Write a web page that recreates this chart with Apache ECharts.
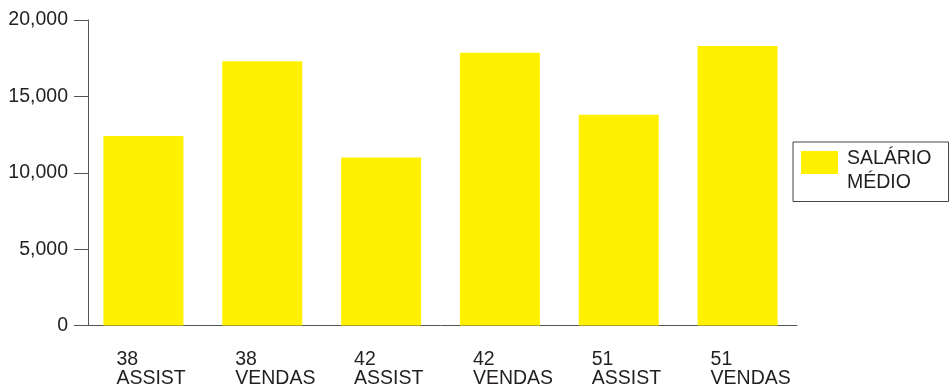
<!DOCTYPE html>
<html>
<head>
<meta charset="utf-8">
<script src="https://cdn.jsdelivr.net/npm/echarts@6/dist/echarts.min.js"></script>
<style>
	html,body{margin:0;padding:0;background:#fff;}
	#bar_main{width:950px;height:389px;}
</style>
</head>
<body>
<div id="bar_main"></div>
<script>
var categories=['38\nASSIST','38\nVENDAS','42\nASSIST','42\nVENDAS','51\nASSIST','51\nVENDAS'];
var salario_medio=[12400,17300,11000,17850,13800,18300];
var series_name='SALÁRIO MÉDIO';
var y_ticks=[0,5000,10000,15000,20000];

function fmt_thousand(v){
	return String(v).replace(/\B(?=(\d{3})+(?!\d))/g,',');
}

function echarts_bar(){
	var myChart=echarts.init(document.getElementById('bar_main'));
	var font='"Liberation Sans", Arial, sans-serif';
	var option={
		animation:false,
		textStyle:{fontFamily:font},
		grid:{
			left:84,
			right:153,
			top:20,
			bottom:62.5
		},
		legend:{
			left:793,
			top:142,
			orient:'vertical',
			padding:[-8.5,17,8.5,8],
			borderColor:'#444',
			borderWidth:1,
			itemWidth:37,
			itemHeight:23,
			icon:'rect',
			formatter:function(name){
				// two lines, pushed down a bit so the first line sits by the swatch
				return '{s| }\n{t|'+name.split(' ').join('}\n{t|')+'}';
			},
			textStyle:{
				fontSize:19.5,
				color:'#231f20',
				fontFamily:font,
				padding:[0,0,0,4],
				rich:{
					s:{fontSize:10,lineHeight:17},
					t:{fontSize:19.5,lineHeight:24,color:'#231f20',fontFamily:font}
				}
			},
			data:[series_name]
		},
		xAxis:[
		{
			type:'category',
			data:categories,
			axisLine:{lineStyle:{color:'#555',width:1}},
			axisTick:{alignWithLabel:true,length:13,lineStyle:{color:'#555'}},
			axisLabel:{
				interval:0,
				margin:25,
				fontSize:19.5,
				lineHeight:19,
				color:'#231f20',
				align:'left',
				padding:[0,0,0,-27]
			}
		}],
		yAxis:[
		{
			type:'value',
			min:y_ticks[0],
			max:y_ticks[y_ticks.length-1],
			interval:5000,
			offset:-4,
			splitLine:{show:false},
			axisLine:{show:true,lineStyle:{color:'#555',width:1}},
			axisTick:{show:true,length:14,lineStyle:{color:'#555'}},
			axisLabel:{
				margin:20,
				fontSize:19.5,
				color:'#231f20',
				formatter:fmt_thousand
			}
		}],
		series:[
		{
			name:series_name,
			type:'bar',
			barWidth:80,
			itemStyle:{color:'#fff100'},
			data:salario_medio
		}]
	};
	myChart.setOption(option);
}
echarts_bar();
</script>
</body>
</html>
